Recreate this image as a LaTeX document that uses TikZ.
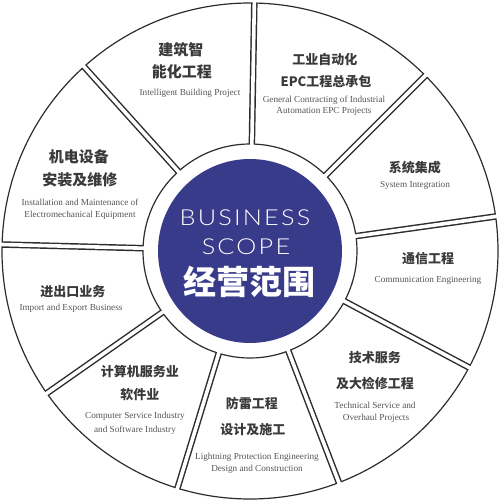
\documentclass[tikz,border=0pt]{standalone}
\usepackage{fontspec}
\setmainfont{Liberation Serif}
\newfontfamily\enfont{Liberation Serif}[FakeStretch=1.0]
\newfontfamily\cjk{Noto Sans CJK SC}
\newfontfamily\biz{Lato Light}[FakeStretch=1.15,LetterSpace=10]
\definecolor{navy}{RGB}{56,58,138}
\definecolor{edgecol}{RGB}{45,45,45}
\definecolor{zhcol}{RGB}{58,58,58}
\definecolor{encol}{RGB}{85,85,85}
\tikzset{
  zh/.style={text=zhcol,font=\cjk\bfseries\fontsize{13}{14}\selectfont,inner sep=0pt},
  zhbig/.style={zh,font=\cjk\bfseries\fontsize{15}{16}\selectfont},
  en/.style={text=encol,font=\enfont\fontsize{9.2}{10}\selectfont,inner sep=0pt},
  ring/.style={draw=edgecol,line width=1.2pt},
}
\begin{document}
\begin{tikzpicture}[x=1pt,y=1pt]
\useasboundingbox (-250,-250) rectangle (250,251);
\fill[white] (-250,-250) rectangle (250,251);
\def\Ro{248}
\def\Ri{107}
\draw[ring] (0,0) circle (\Ro);
\draw[ring] (0,0) circle (\Ri);
\foreach \a in {89,45,8,-28,-69,-107,-145,178.5,132} {
  \draw[line width=6.5pt,edgecol] (\a:\Ri) -- (\a:\Ro);
  \draw[line width=3.6pt,white] (\a:\Ri-3) -- (\a:\Ro+3);
}
\fill[navy] (0,0) circle (92);
% center text
\node[text=white,font=\biz\fontsize{22}{23}\selectfont,inner sep=0pt] (b1) at (-5,33) {BUSINESS};
\node[text=white,font=\biz\fontsize{22}{23}\selectfont,inner sep=0pt] (b2) at (-4,4) {SCOPE};
\node[text=white,font=\cjk\bfseries\fontsize{33}{34}\selectfont,inner sep=0pt] (b3) at (0,-31) {经营范围};
% sector 1
\node[zhbig] (s1a) at (-69,201) {建筑智};
\node[zhbig] (s1b) at (-68,179) {能化工程};
\node[en] (s1c) at (-60,158) {Intelligent Building Project};
% sector 2
\node[zh] (s2a) at (75,191) {工业自动化};
\node[zh] (s2b) at (76,169) {EPC工程总承包};
\node[en] (s2c) at (74,151) {General Contracting of Industrial};
\node[en] (s2d) at (74,140) {Automation EPC Projects};
% sector 3
\node[zh] (s3a) at (165,83) {系统集成};
\node[en] (s3b) at (165,66) {System Integration};
% sector 4
\node[zh] (s4a) at (178,-8) {通信工程};
\node[en] (s4b) at (178,-29) {Communication Engineering};
% sector 5
\node[zh] (s5a) at (125,-107) {技术服务};
\node[zh] (s5b) at (125,-132) {及大检修工程};
\node[en] (s5c) at (125,-154) {Technical Service and};
\node[en] (s5d) at (126,-167) {Overhaul Projects};
% sector 6
\node[zh] (s6a) at (2,-152) {防雷工程};
\node[zh] (s6b) at (3,-179) {设计及施工};
\node[en] (s6c) at (7,-206) {Lightning Protection Engineering};
\node[en] (s6d) at (7,-218) {Design and Construction};
% sector 7
\node[zh] (s7a) at (-110,-121) {计算机服务业};
\node[zh] (s7b) at (-110,-144) {软件业};
\node[en] (s7c) at (-115,-165) {Computer Service Industry};
\node[en] (s7d) at (-115,-179) {and Software Industry};
% sector 8
\node[zh] (s8a) at (-177,-41) {进出口业务};
\node[en] (s8b) at (-179,-57) {Import and Export Business};
% sector 9
\node[zhbig] (s9a) at (-171,94) {机电设备};
\node[zhbig] (s9b) at (-170,71) {安装及维修};
\node[en] (s9c) at (-170,49) {Installation and Maintenance of};
\node[en] (s9d) at (-170,36) {Electromechanical Equipment};
\end{tikzpicture}
\end{document}
